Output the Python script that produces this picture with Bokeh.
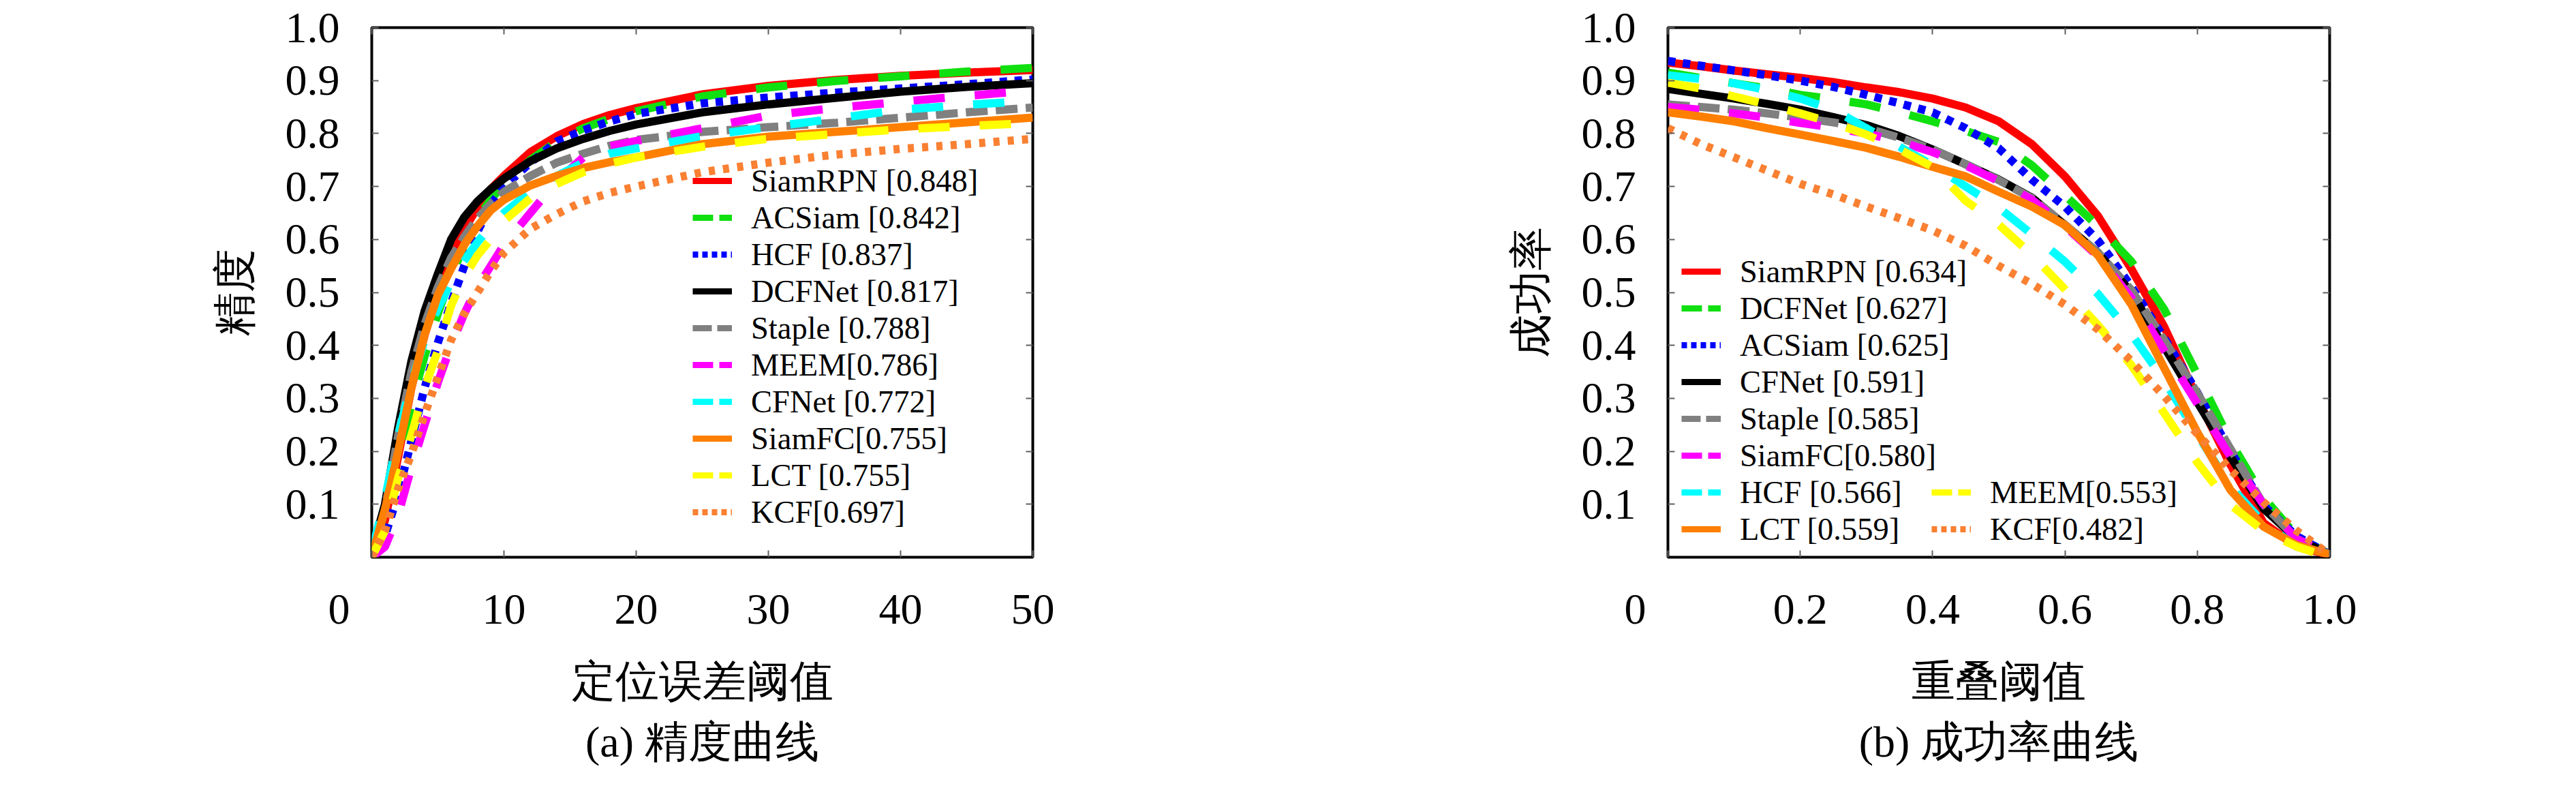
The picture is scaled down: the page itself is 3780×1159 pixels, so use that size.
from bokeh.plotting import figure
from bokeh.models import (FixedTicker, LinearAxis, Legend, LegendItem, Title,
                          ColumnDataSource, Range1d)
from bokeh.layouts import row
from bokeh.embed import file_html
from bokeh.resources import INLINE

# ---------------- data: (a) precision plot ----------------
x_prec = [0, 1, 2, 3, 4, 5, 6, 7, 8, 9, 10, 12, 14, 16, 18, 20, 25, 30, 35, 40, 45, 50]
prec_labels = ["SiamRPN [0.848]", "ACSiam [0.842]", "HCF [0.837]", "DCFNet [0.817]",
               "Staple [0.788]", "MEEM[0.786]", "CFNet [0.772]", "SiamFC[0.755]",
               "LCT [0.755]", "KCF[0.697]"]
prec_siamrpn = [0.0, 0.07, 0.19, 0.32, 0.42, 0.50, 0.57, 0.62, 0.66, 0.695, 0.72, 0.765, 0.795, 0.818, 0.835, 0.848, 0.874, 0.89, 0.901, 0.909, 0.915, 0.92]
prec_acsiam = [0.0, 0.06, 0.17, 0.29, 0.38, 0.46, 0.53, 0.59, 0.64, 0.675, 0.705, 0.75, 0.785, 0.81, 0.828, 0.842, 0.87, 0.887, 0.899, 0.908, 0.917, 0.924]
prec_hcf = [0.0, 0.04, 0.12, 0.22, 0.32, 0.405, 0.48, 0.55, 0.615, 0.665, 0.70, 0.745, 0.785, 0.806, 0.823, 0.837, 0.857, 0.868, 0.877, 0.885, 0.893, 0.902]
prec_dcfnet = [0.01, 0.10, 0.245, 0.37, 0.465, 0.535, 0.60, 0.642, 0.672, 0.695, 0.715, 0.748, 0.772, 0.79, 0.805, 0.817, 0.84, 0.855, 0.867, 0.879, 0.888, 0.895]
prec_staple = [0.0, 0.09, 0.23, 0.35, 0.44, 0.51, 0.565, 0.605, 0.64, 0.667, 0.69, 0.72, 0.745, 0.762, 0.777, 0.788, 0.803, 0.812, 0.82, 0.83, 0.84, 0.849]
prec_meem = [0.0, 0.02, 0.08, 0.17, 0.25, 0.33, 0.40, 0.46, 0.51, 0.55, 0.59, 0.65, 0.71, 0.755, 0.776, 0.786, 0.81, 0.834, 0.848, 0.86, 0.871, 0.882]
prec_cfnet = [0.01, 0.11, 0.23, 0.33, 0.41, 0.47, 0.52, 0.56, 0.595, 0.625, 0.65, 0.69, 0.72, 0.745, 0.762, 0.772, 0.795, 0.812, 0.828, 0.845, 0.854, 0.862]
prec_siamfc = [0.0, 0.09, 0.20, 0.32, 0.42, 0.495, 0.545, 0.59, 0.625, 0.655, 0.675, 0.702, 0.72, 0.735, 0.746, 0.755, 0.78, 0.794, 0.803, 0.812, 0.821, 0.83]
prec_lct = [0.0, 0.05, 0.15, 0.23, 0.32, 0.39, 0.475, 0.53, 0.57, 0.60, 0.635, 0.678, 0.705, 0.727, 0.743, 0.755, 0.775, 0.79, 0.799, 0.808, 0.814, 0.82]
prec_kcf = [0.0, 0.05, 0.13, 0.195, 0.27, 0.34, 0.41, 0.46, 0.50, 0.54, 0.575, 0.62, 0.648, 0.672, 0.688, 0.70, 0.727, 0.745, 0.76, 0.771, 0.78, 0.79]
prec_series = [prec_siamrpn, prec_acsiam, prec_hcf, prec_dcfnet, prec_staple,
               prec_meem, prec_cfnet, prec_siamfc, prec_lct, prec_kcf]

# ---------------- data: (b) success plot ----------------
x_succ = [0, 0.05, 0.1, 0.15, 0.2, 0.25, 0.3, 0.35, 0.4, 0.45, 0.5, 0.55, 0.6, 0.65, 0.7, 0.75, 0.8, 0.85, 0.9, 0.95, 1.0]
succ_labels = ["SiamRPN [0.634]", "DCFNet [0.627]", "ACSiam [0.625]", "CFNet [0.591]",
               "Staple [0.585]", "SiamFC[0.580]", "HCF [0.566]", "LCT [0.559]",
               "MEEM[0.553]", "KCF[0.482]"]
succ_siamrpn = [0.934, 0.927, 0.919, 0.912, 0.905, 0.897, 0.887, 0.878, 0.866, 0.849, 0.823, 0.78, 0.719, 0.644, 0.545, 0.435, 0.30, 0.175, 0.065, 0.02, 0.005]
succ_dcfnet = [0.915, 0.905, 0.895, 0.885, 0.873, 0.865, 0.855, 0.84, 0.823, 0.805, 0.784, 0.74, 0.683, 0.625, 0.559, 0.468, 0.345, 0.219, 0.113, 0.04, 0.005]
succ_acsiam = [0.937, 0.928, 0.919, 0.91, 0.90, 0.888, 0.873, 0.857, 0.84, 0.81, 0.772, 0.713, 0.662, 0.598, 0.512, 0.414, 0.311, 0.201, 0.098, 0.04, 0.005]
succ_cfnet = [0.884, 0.875, 0.866, 0.856, 0.845, 0.831, 0.816, 0.795, 0.77, 0.742, 0.713, 0.679, 0.627, 0.575, 0.50, 0.397, 0.293, 0.19, 0.092, 0.035, 0.005]
succ_staple = [0.855, 0.85, 0.845, 0.838, 0.83, 0.821, 0.81, 0.792, 0.77, 0.742, 0.712, 0.678, 0.628, 0.575, 0.505, 0.41, 0.31, 0.205, 0.10, 0.035, 0.005]
succ_siamfc = [0.85, 0.845, 0.838, 0.83, 0.82, 0.811, 0.80, 0.785, 0.765, 0.74, 0.71, 0.675, 0.625, 0.568, 0.49, 0.39, 0.29, 0.19, 0.10, 0.035, 0.005]
succ_hcf = [0.91, 0.903, 0.895, 0.882, 0.866, 0.845, 0.81, 0.775, 0.74, 0.70, 0.66, 0.61, 0.558, 0.497, 0.422, 0.334, 0.232, 0.134, 0.065, 0.02, 0.005]
succ_lct = [0.84, 0.832, 0.823, 0.81, 0.798, 0.786, 0.773, 0.756, 0.737, 0.719, 0.69, 0.662, 0.627, 0.57, 0.478, 0.357, 0.236, 0.127, 0.058, 0.023, 0.005]
succ_meem = [0.896, 0.885, 0.87, 0.855, 0.838, 0.82, 0.798, 0.77, 0.737, 0.673, 0.628, 0.571, 0.506, 0.438, 0.363, 0.272, 0.179, 0.099, 0.05, 0.02, 0.0]
succ_kcf = [0.81, 0.78, 0.755, 0.73, 0.705, 0.685, 0.662, 0.64, 0.617, 0.588, 0.55, 0.516, 0.477, 0.43, 0.371, 0.304, 0.233, 0.165, 0.104, 0.05, 0.005]
succ_series = [succ_siamrpn, succ_dcfnet, succ_acsiam, succ_cfnet, succ_staple,
               succ_siamfc, succ_hcf, succ_lct, succ_meem, succ_kcf]

# ---------------- tick labels ----------------
prec_xticks = [0, 10, 20, 30, 40, 50]
prec_xtick_labels = ["0", "10", "20", "30", "40", "50"]
succ_xticks = [0, 0.2, 0.4, 0.6, 0.8, 1.0]
succ_xtick_labels = ["0", "0.2", "0.4", "0.6", "0.8", "1.0"]
yticks = [0.1, 0.2, 0.3, 0.4, 0.5, 0.6, 0.7, 0.8, 0.9, 1.0]
ytick_labels = ["0.1", "0.2", "0.3", "0.4", "0.5", "0.6", "0.7", "0.8", "0.9", "1.0"]

# styles for the 10 legend slots: colour, plot dash, legend dash
slot_styles = [
    ("#FF0000", "solid", "solid"),
    ("#10E010", "46 44", "30 9"),
    ("#0000FF", "11 11", "8 6"),
    ("#000000", "solid", "solid"),
    ("#808080", "32 12", "28 8"),
    ("#FF00FF", "46 44", "30 9"),
    ("#00FFFF", "46 44", "30 9"),
    ("#FF7F00", "solid", "solid"),
    ("#FFFF00", "46 44", "30 9"),
    ("#FA8032", "9 12", "8 6"),
]
SERIF = "Liberation Serif"
FS = "64px"
NAN = float("nan")
NBSP = "\u00a0"

TOP = 40        # border above the frame
FRAME_H = 777   # frame height -> frame bottom at page y = 825
FIG_H = 1143


def style_axis(ax, labels=True):
    ax.axis_line_color = None
    ax.major_tick_in = 10
    ax.major_tick_out = 0
    ax.major_tick_line_color = "#606060"
    ax.major_tick_line_width = 2
    ax.minor_tick_line_color = None
    if labels:
        ax.major_label_text_font = SERIF
        ax.major_label_text_font_size = FS
        ax.major_label_text_color = "black"
    else:
        ax.major_label_text_font_size = "1px"
        ax.major_label_text_color = None
        ax.major_label_standoff = 0


def make_fig(xs, series, labels, xr, xticks, xlabels, xtitle, ytitle, caption,
             width, border_left, frame_w, legend_groups):
    p = figure(width=width, height=FIG_H,
               x_range=Range1d(*xr), y_range=Range1d(0, 1),
               output_backend="svg", toolbar_location=None,
               min_border_left=border_left, min_border_top=TOP,
               min_border_bottom=FIG_H - TOP - FRAME_H,
               min_border_right=width - border_left - frame_w)
    p.grid.visible = False
    p.outline_line_color = "black"
    p.outline_line_width = 4
    p.background_fill_color = "white"
    p.border_fill_color = "white"

    xt = FixedTicker(ticks=xticks)
    yt = FixedTicker(ticks=yticks)
    p.xaxis.ticker = xt
    p.yaxis.ticker = yt
    overrides = dict(zip(xticks, xlabels))
    # the "0" label sits a little left of its tick in the original figure
    overrides[xticks[0]] = xlabels[0] + NBSP * 6
    p.xaxis.major_label_overrides = overrides
    p.yaxis.major_label_overrides = dict(zip(yticks, ytick_labels))
    style_axis(p.xaxis[0])
    style_axis(p.yaxis[0])
    p.xaxis.major_label_standoff = 40
    p.yaxis.major_label_standoff = 47

    p.xaxis.axis_label = xtitle
    p.xaxis.axis_label_text_font = SERIF
    p.xaxis.axis_label_text_font_size = FS
    p.xaxis.axis_label_text_font_style = "normal"
    p.xaxis.axis_label_text_color = "black"
    p.xaxis.axis_label_standoff = 32
    p.yaxis.axis_label = ytitle
    p.yaxis.axis_label_text_font = SERIF
    p.yaxis.axis_label_text_font_size = FS
    p.yaxis.axis_label_text_font_style = "normal"
    p.yaxis.axis_label_text_color = "black"
    p.yaxis.axis_label_standoff = 36

    top = LinearAxis(ticker=xt)
    style_axis(top, labels=False)
    right = LinearAxis(ticker=yt)
    style_axis(right, labels=False)
    p.add_layout(top, "above")
    p.add_layout(right, "right")

    cap = Title(text=caption, align="center", text_font=SERIF, text_font_size=FS,
                text_font_style="normal", text_color="black", standoff=27)
    p.add_layout(cap, "below")

    items = []
    for ys, lab, (col, dash, ldash) in zip(series, labels, slot_styles):
        src = ColumnDataSource(data=dict(x=xs, y=ys))
        p.line("x", "y", source=src, line_color=col, line_width=12, line_dash=dash)
        # legend sample (not drawn in the frame: its single point is NaN)
        sample = p.line(x=[NAN], y=[NAN], line_color=col, line_width=9, line_dash=ldash)
        items.append(LegendItem(label=lab, renderers=[sample]))

    for (start, stop, loc) in legend_groups:
        lg = Legend(items=items[start:stop], location=loc, orientation="vertical",
                    label_text_font=SERIF, label_text_font_size="46.5px",
                    label_text_color="black",
                    glyph_width=58, glyph_height=54, label_height=54,
                    label_standoff=28, spacing=0, padding=0, margin=0,
                    border_line_color=None, background_fill_alpha=0)
        p.add_layout(lg, "center")
    return p


pa = make_fig(x_prec, prec_series, prec_labels, (0, 50), prec_xticks, prec_xtick_labels,
              "定位误差阈值", "精度", "(a) 精度曲线",
              1890, 545, 970, [(0, 10, (471, 39))])
pb = make_fig(x_succ, succ_series, succ_labels, (0, 1), succ_xticks, succ_xtick_labels,
              "重叠阈值", "成功率", "(b) 成功率曲线",
              1874, 557, 971, [(0, 8, (20, 14)), (8, 10, (387, 14))])

layout = row(pa, pb)
open("out.html", "w").write(file_html(layout, INLINE))
